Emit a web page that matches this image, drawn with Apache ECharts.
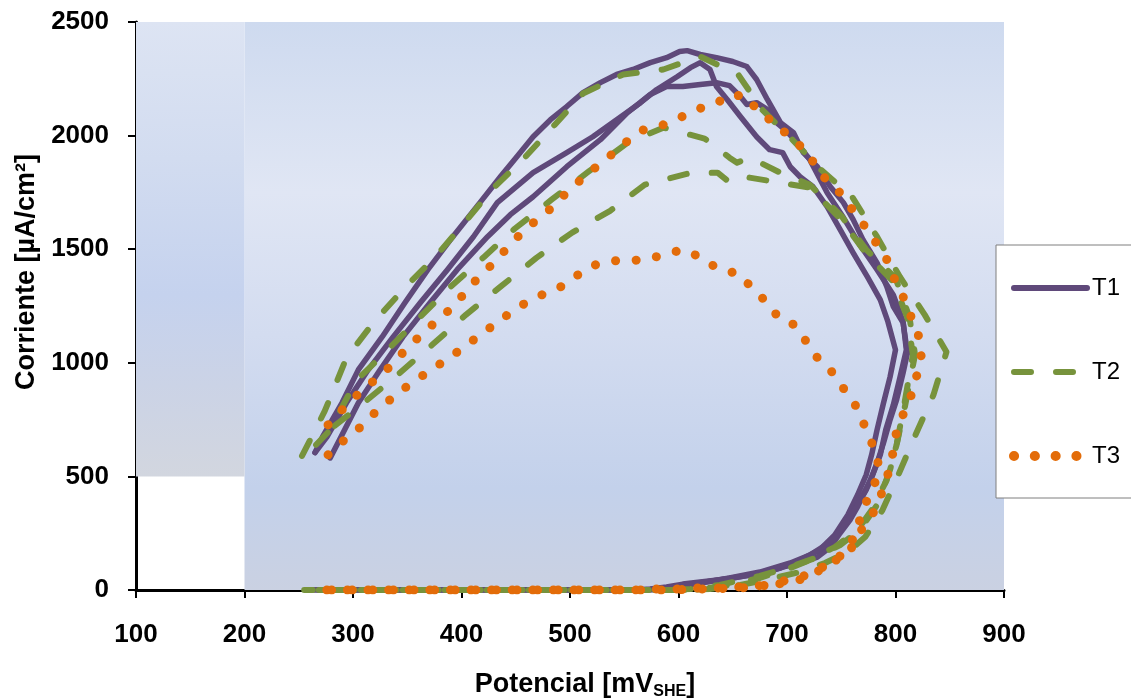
<!DOCTYPE html>
<html><head><meta charset="utf-8">
<script src="https://cdn.jsdelivr.net/npm/echarts@6/dist/echarts.min.js"></script>
<style>html,body{margin:0;padding:0;background:#fff}#c{width:1131px;height:700px}</style>
</head><body><div id="c"></div>
<script>
const FONT = "'Liberation Sans',Arial,sans-serif";
const seriesNames = ['T1', 'T2', 'T3'];
const xAxisTitle = 'Potencial [mV{s|SHE}]';
const yAxisTitle = 'Corriente [µA/cm²]';

// T1 (solid purple) – three cycles
const T1_cycle1 = [[265,605],[272,675],[290,825],[305,970],[327,1115],[348,1265],[369,1410],[392,1555],[417,1705],[436,1820],[451,1907],[466,1995],[482,2070],[497,2128],[512,2189],[528,2233],[543,2269],[558,2291],[574,2321],[589,2343],[601,2370],[608,2374],[620,2357],[635,2343],[650,2326],[663,2304],[672,2247],[682,2158],[694,2057],[706,2013],[715,1925],[728,1863],[740,1775],[752,1705],[761,1630],[770,1542],[783,1440],[792,1335],[798,1247],[807,1176],[811,1044],[807,956],[801,837],[795,749],[789,648],[783,559],[777,485],[770,418],[765,366],[758,308],[749,251],[740,189],[728,145],[712,119],[696,101],[682,79],[666,66],[650,53],[636,44],[620,35],[604,26],[589,13],[574,4],[560,0],[265,0]];
const T1_cycle2 = [[265,605],[276,674],[294,824],[314,969],[337,1114],[362,1264],[387,1410],[411,1555],[433,1705],[466,1837],[497,1925],[521,1995],[543,2070],[565,2145],[580,2203],[599,2260],[611,2299],[620,2321],[629,2291],[635,2216],[645,2158],[657,2084],[672,1995],[684,1938],[696,1925],[703,1863],[712,1819],[724,1775],[737,1687],[749,1586],[761,1484],[774,1379],[786,1277],[793,1181],[800,1057],[795,938],[789,824],[783,705],[778,595],[773,507],[765,418],[756,330],[744,242],[730,176],[712,132],[694,97],[666,66],[638,44],[611,26],[588,9],[570,0],[262,0]];
const T1_cycle3 = [[279,581],[305,824],[325,969],[346,1114],[371,1264],[396,1410],[424,1555],[445,1652],[466,1731],[497,1863],[528,1982],[553,2101],[574,2181],[589,2216],[604,2216],[620,2225],[635,2233],[647,2220],[657,2172],[663,2137],[672,2145],[682,2115],[689,2062],[698,2026],[707,1982],[721,1894],[737,1749],[752,1639],[767,1520],[783,1410],[798,1299],[807,1181],[810,1057],[804,934],[798,815],[791,705],[786,595],[779,507],[773,441],[765,374],[753,286],[740,211],[721,154],[703,119],[675,79],[647,53],[620,31],[592,9],[575,0],[268,0]];

// T2 (dashed green) – three cycles
const T2_cycle1 = [[253,590],[274,788],[294,1022],[318,1172],[346,1322],[376,1467],[402,1612],[428,1762],[459,1907],[486,2048],[512,2185],[549,2269],[586,2291],[620,2348],[655,2269],[677,2115],[705,1982],[730,1855],[760,1731],[783,1555],[804,1379],[827,1211],[847,1048],[835,859],[818,678],[803,511],[788,352],[772,233],[756,167],[735,119],[712,79],[684,48],[657,22],[629,4],[600,0],[253,0]];
const T2_cycle2 = [[266,639],[278,700],[303,921],[332,1057],[361,1198],[390,1335],[421,1467],[449,1590],[483,1718],[517,1841],[552,1965],[586,2035],[624,1987],[647,1903],[654,1881],[666,1903],[692,1841],[721,1784],[750,1647],[773,1498],[800,1374],[813,1198],[818,1035],[809,815],[801,639],[792,485],[778,352],[765,264],[744,189],[721,132],[703,97],[675,53],[647,22],[620,4],[600,0],[260,0]];
const T2_cycle3 = [[283,722],[311,828],[342,951],[373,1079],[404,1211],[436,1335],[469,1462],[502,1573],[537,1669],[569,1784],[609,1833],[636,1837],[645,1802],[654,1824],[682,1802],[721,1771],[750,1630],[773,1480],[798,1357],[811,1198],[816,1035],[808,815],[801,639],[795,529],[783,374],[767,264],[749,198],[726,141],[703,101],[675,62],[638,22],[611,4],[590,0],[255,0]];

// T3 (dotted orange) – two cycles
const T3_cycle1 = [[277,727],[290,793],[304,859],[318,916],[332,974],[345,1040],[359,1106],[373,1167],[387,1225],[400,1291],[412,1357],[425,1418],[438,1484],[451,1551],[465,1612],[480,1669],[493,1731],[507,1793],[521,1850],[536,1907],[550,1965],[565,2022],[582,2040],[600,2075],[615,2114],[633,2136],[647,2180],[664,2172],[674,2097],[691,2053],[702,1991],[717,1938],[727,1863],[738,1793],[750,1744],[761,1669],[772,1599],[782,1529],[792,1454],[799,1370],[807,1291],[814,1207],[821,1123],[824,1040],[820,951],[815,863],[808,784],[801,700],[798,612],[794,524],[788,436],[782,357],[771,282],[765,238],[757,163],[742,123],[726,75],[709,40],[691,26],[672,18],[654,13],[636,9],[617,9],[598,4],[579,4],[560,0],[272,0]];
const T3_cycle2 = [[277,595],[291,656],[306,714],[319,775],[333,833],[348,890],[364,943],[379,991],[395,1044],[410,1097],[425,1150],[440,1203],[456,1255],[472,1295],[490,1330],[506,1383],[520,1427],[539,1449],[555,1449],[574,1458],[590,1484],[607,1498],[623,1454],[638,1410],[656,1392],[669,1322],[682,1264],[693,1194],[707,1167],[718,1092],[728,1022],[740,969],[751,894],[762,824],[770,740],[777,661],[784,577],[783,493],[775,410],[768,326],[763,238],[749,150],[735,106],[719,66],[703,48],[684,22],[657,9],[620,4],[590,0],[267,0]];

const COLORS = { T1: '#5f497a', T2: '#77933c', T3: '#e36c09' };
const STYLES = {
  T1: { width: 5.5, type: 'solid', cap: 'round', join: 'round' },
  T2: { width: 6, type: [17, 25], cap: 'round', join: 'round' },
  T3: { width: 9, type: [0.1, 20.5], cap: 'round', join: 'round' }
};

function lineSeries(name, data, z) {
  return {
    type: 'line', name: name, data: data, symbol: 'none', z: z,
    animation: false, silent: true,
    itemStyle: { color: COLORS[name] },
    lineStyle: Object.assign({ color: COLORS[name] }, STYLES[name])
  };
}

const bgMain = new echarts.graphic.LinearGradient(0, 0, 0, 1, [
  { offset: 0, color: '#cedaef' }, { offset: 0.3, color: '#e0e6f4' },
  { offset: 0.55, color: '#d3dcf0' }, { offset: 0.82, color: '#c3d1eb' },
  { offset: 1, color: '#cad1e2' }]);
const bgLeft = new echarts.graphic.LinearGradient(0, 0, 0, 1, [
  { offset: 0, color: '#dde4f3' }, { offset: 0.3, color: '#d2dcf0' },
  { offset: 0.6, color: '#c5d2ee' }, { offset: 0.8, color: '#cbd3e6' },
  { offset: 1, color: '#d2d6df' }]);

const series = [
  {
    type: 'line', name: 'bg', data: [], z: 0, silent: true, animation: false,
    markArea: {
      silent: true, animation: false,
      data: [
        [{ xAxis: 200, yAxis: 0, itemStyle: { color: bgMain, opacity: 1 } }, { xAxis: 900, yAxis: 2500 }],
        [{ xAxis: 100, yAxis: 500, itemStyle: { color: bgLeft, opacity: 1 } }, { xAxis: 200, yAxis: 2500 }]
      ]
    }
  },
  lineSeries('T1', T1_cycle1, 3), lineSeries('T1', T1_cycle2, 3), lineSeries('T1', T1_cycle3, 3),
  lineSeries('T2', T2_cycle1, 4), lineSeries('T2', T2_cycle2, 4), lineSeries('T2', T2_cycle3, 4),
  lineSeries('T3', T3_cycle1, 5), lineSeries('T3', T3_cycle2, 5)
];

const legendData = seriesNames.map(function (n) {
  return {
    name: n,
    lineStyle: Object.assign({ color: COLORS[n] }, STYLES[n], n === 'T3' ? { width: 10, type: [0.1, 20.7] } : { width: 6 })
  };
});

const chart = echarts.init(document.getElementById('c'), null, { renderer: 'canvas' });
chart.setOption({
  backgroundColor: '#ffffff',
  animation: false,
  grid: { left: 136, right: 127, top: 22, bottom: 110, containLabel: false, outerBoundsMode: 'none' },
  legend: {
    data: legendData, orient: 'vertical', left: 996, top: 245,
    padding: [31, 12, 30, 13], itemGap: 60,
    itemWidth: 73, itemHeight: 14,
    backgroundColor: '#ffffff', borderColor: '#7f7f7f', borderWidth: 1,
    itemStyle: { opacity: 0, color: 'transparent', borderWidth: 0 },
    textStyle: { fontFamily: FONT, fontSize: 24, color: '#000', lineHeight: 20 },
    selectedMode: false
  },
  xAxis: {
    type: 'value', min: 100, max: 900, interval: 100,
    name: xAxisTitle, nameLocation: 'middle', nameGap: 80,
    nameTextStyle: {
      fontFamily: FONT, fontSize: 27, fontWeight: 'bold', color: '#000', padding: [0, 0, 0, 30],
      rich: { s: { fontFamily: FONT, fontSize: 16, fontWeight: 'bold', color: '#000', padding: [14, 0, 0, 0] } }
    },
    axisLine: { onZero: false, lineStyle: { color: '#000', width: 3 } },
    axisTick: { length: 8, lineStyle: { color: '#000', width: 2 } },
    axisLabel: { fontFamily: FONT, fontSize: 26, fontWeight: 'bold', color: '#000', margin: 32,
      formatter: function (v) { return String(v); } },
    splitLine: { show: false }
  },
  yAxis: {
    type: 'value', min: 0, max: 2500, interval: 500,
    name: yAxisTitle, nameLocation: 'middle', nameGap: 71,
    nameTextStyle: { fontFamily: FONT, fontSize: 27, fontWeight: 'bold', color: '#000', padding: [0, 0, 0, 68] },
    axisLine: { show: true, lineStyle: { color: '#000', width: 3 } },
    axisTick: { show: true, length: 8, lineStyle: { color: '#000', width: 2 } },
    axisLabel: { fontFamily: FONT, fontSize: 26, fontWeight: 'bold', color: '#000', margin: 27,
      formatter: function (v) { return String(v); } },
    splitLine: { show: false }
  },
  series: series
});
</script>
</body></html>
